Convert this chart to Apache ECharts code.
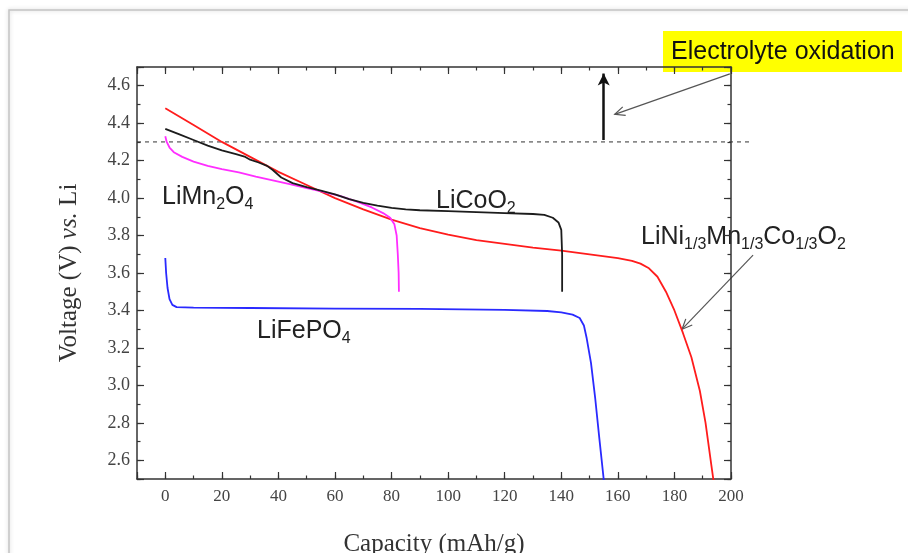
<!DOCTYPE html>
<html>
<head>
<meta charset="utf-8">
<script src="https://cdn.jsdelivr.net/npm/echarts@6/dist/echarts.min.js"></script>
<style>
  html, body { margin: 0; padding: 0; background: #fff; }
  #main { width: 908px; height: 553px; }
</style>
</head>
<body>
<div id="main"></div>
<script>
// discharge curves, capacity (mAh/g) vs voltage (V)
const capNmc = [0, 10, 20, 30, 40, 50, 60, 70, 80, 90, 100, 110, 120, 130, 140, 150, 160, 165, 168, 171, 174, 177, 180, 183, 186, 189, 191, 193, 194.2];
const voltNmc = [4.48, 4.39, 4.30, 4.22, 4.14, 4.07, 4.00, 3.94, 3.885, 3.84, 3.805, 3.775, 3.755, 3.735, 3.72, 3.70, 3.68, 3.665, 3.65, 3.625, 3.58, 3.50, 3.40, 3.28, 3.15, 2.97, 2.80, 2.58, 2.45];

const capMn = [0, 0.5, 1.5, 3, 6, 10, 15, 20, 26, 32, 38, 44, 50, 56, 62, 68, 73, 77, 79.5, 81, 81.8, 82.2, 82.5, 82.6];
const voltMn = [4.33, 4.30, 4.27, 4.245, 4.22, 4.195, 4.172, 4.155, 4.137, 4.115, 4.095, 4.075, 4.053, 4.033, 4.01, 3.98, 3.95, 3.92, 3.895, 3.86, 3.80, 3.70, 3.60, 3.50];

const capCo = [0, 5, 10, 15, 20, 25, 28, 30, 33, 36, 38, 41, 45, 50, 55, 60, 65, 70, 75, 80, 85, 90, 100, 110, 120, 130, 134, 137, 139, 140, 140.3, 140.3];
const voltCo = [4.37, 4.34, 4.31, 4.28, 4.255, 4.235, 4.222, 4.205, 4.19, 4.172, 4.15, 4.11, 4.08, 4.058, 4.04, 4.02, 3.995, 3.975, 3.96, 3.948, 3.94, 3.935, 3.93, 3.925, 3.92, 3.915, 3.91, 3.895, 3.87, 3.83, 3.70, 3.50];

const capFe = [0, 0.3, 0.8, 1.5, 2.5, 4, 10, 30, 60, 90, 120, 135, 140, 144, 146.5, 148, 149, 150.5, 152, 153.5, 155.2];
const voltFe = [3.68, 3.60, 3.52, 3.46, 3.43, 3.418, 3.415, 3.413, 3.41, 3.408, 3.403, 3.397, 3.39, 3.378, 3.36, 3.32, 3.25, 3.12, 2.93, 2.71, 2.47];

// axis ranges
const xMin = -10, xMax = 200;
const yMin = 2.5, yMax = 4.7;

// annotations
const limitV = 4.3;
const oxArrow = [[155, 4.31], [155, 4.665]];

const serif = 'Liberation Serif';
const sans = 'Liberation Sans';
const frameCol = '#333';

const chart = echarts.init(document.getElementById('main'));

function pairs(xs, ys) { return xs.map((x, i) => [x, ys[i]]); }

function xAx(pos, step, len, line, labels) {
  const a = {
    type: 'value', position: pos, min: xMin, max: xMax,
    axisLine: { show: line, onZero: false, lineStyle: { color: frameCol, width: 1.5 } },
    axisTick: { inside: true, length: len, lineStyle: { color: frameCol, width: 1.2 } },
    axisLabel: { show: false },
    splitLine: { show: false }
  };
  if (step) a.interval = step; else a.splitNumber = 10;
  if (labels) {
    a.axisLabel = {
      show: true, margin: 9, fontFamily: serif, fontSize: 17, color: '#444',
      formatter: v => (v < 0 ? '' : v)
    };
    a.name = 'Capacity (mAh/g)';
    a.nameLocation = 'middle';
    a.nameGap = 53;
    a.nameTextStyle = { fontFamily: serif, fontSize: 25, color: '#333' };
  }
  return a;
}

function yAx(pos, step, len, line, labels) {
  const a = {
    type: 'value', position: pos, min: yMin, max: yMax,
    axisLine: { show: line, onZero: false, lineStyle: { color: frameCol, width: 1.5 } },
    axisTick: { inside: true, length: len, lineStyle: { color: frameCol, width: 1.2 } },
    axisLabel: { show: false },
    splitLine: { show: false }
  };
  if (step) a.interval = step; else a.splitNumber = 11;
  if (labels) {
    a.axisLabel = {
      show: true, margin: 7, fontFamily: serif, fontSize: 18, color: '#444',
      formatter: v => (v < 2.55 || v > 4.65 ? '' : v.toFixed(1))
    };
    a.name = 'Voltage (V) {i|vs.} Li';
    a.nameLocation = 'middle';
    a.nameGap = 55;
    a.nameTextStyle = {
      fontFamily: serif, fontSize: 25, color: '#333',
      rich: { i: { fontFamily: serif, fontSize: 25, fontStyle: 'italic', color: '#333' } }
    };
  }
  return a;
}

function line(name, data, color) {
  return {
    name: name, type: 'line', data: data, showSymbol: false, clip: true,
    lineStyle: { color: color, width: 1.8 }, itemStyle: { color: color },
    xAxisIndex: 0, yAxisIndex: 0, silent: true
  };
}

const blackSeries = line('LiCoO2', pairs(capCo, voltCo), '#1c1c1c');
blackSeries.markLine = {
  silent: true, symbol: ['none', 'arrow'], symbolSize: [9, 12],
  label: { show: false },
  lineStyle: { color: '#111', width: 2.5, type: 'solid' },
  data: [[{ coord: oxArrow[0] }, { coord: oxArrow[1] }]]
};

chart.setOption({
  animation: false,
  backgroundColor: '#fff',
  grid: { left: 137, right: 177, top: 67, bottom: 74, containLabel: false, outerBoundsMode: 'none' },
  xAxis: [
    xAx('bottom', null, 7, true, true),
    xAx('bottom', 10, 3.5, false, false),
    xAx('top', null, 7, true, false),
    xAx('top', 10, 3.5, false, false)
  ],
  yAxis: [
    yAx('left', null, 7, true, true),
    yAx('left', 0.1, 3.5, false, false),
    yAx('right', null, 7, true, false),
    yAx('right', 0.1, 3.5, false, false)
  ],
  series: [
    line('LiNi1/3Mn1/3Co1/3O2', pairs(capNmc, voltNmc), '#ff1c1c'),
    line('LiMn2O4', pairs(capMn, voltMn), '#ff2eff'),
    blackSeries,
    line('LiFePO4', pairs(capFe, voltFe), '#2a2aff')
  ]
});

const toPx = p => chart.convertToPixel({ gridIndex: 0 }, p);

function arrow(p0, p1, color, w, head) {
  const a = Math.atan2(p1[1] - p0[1], p1[0] - p0[0]);
  const h1 = [p1[0] - head * Math.cos(a - 0.42), p1[1] - head * Math.sin(a - 0.42)];
  const h2 = [p1[0] - head * Math.cos(a + 0.42), p1[1] - head * Math.sin(a + 0.42)];
  return [
    { type: 'line', silent: true, shape: { x1: p0[0], y1: p0[1], x2: p1[0], y2: p1[1] }, style: { stroke: color, lineWidth: w } },
    { type: 'polyline', silent: true, shape: { points: [h1, p1, h2] }, style: { stroke: color, lineWidth: w, fill: null } }
  ];
}

function label(x, y, text) {
  return {
    type: 'text', x: x, y: y, silent: true,
    style: {
      text: text, verticalAlign: 'middle',
      rich: {
        m: { fontFamily: sans, fontSize: 25, lineHeight: 32, fill: '#222' },
        s: { fontFamily: sans, fontSize: 16, fill: '#222', verticalAlign: 'bottom' }
      }
    }
  };
}

const dA = toPx([xMin, limitV]);
const dB = toPx([207.5, limitV]);

chart.setOption({
  graphic: [
    { type: 'rect', silent: true, shape: { x: 9, y: 10, width: 1000, height: 1000 },
      style: { fill: null, stroke: '#c4c4c4', lineWidth: 1.5, shadowBlur: 4, shadowColor: 'rgba(0,0,0,0.2)' } },
    { type: 'line', silent: true, shape: { x1: dA[0], y1: dA[1], x2: dB[0], y2: dB[1] },
      style: { stroke: '#555', lineWidth: 1.2, lineDash: [4, 4] } },
    { type: 'rect', silent: true, shape: { x: 663, y: 31, width: 239, height: 41 }, style: { fill: '#ffff00' } },
    { type: 'text', silent: true, x: 671, y: 52,
      style: { text: 'Electrolyte oxidation', fontFamily: sans, fontSize: 25, fill: '#111', verticalAlign: 'middle' } },
    ...arrow(toPx([199.6, 4.663]), toPx([158.9, 4.447]), '#555', 1.2, 11),
    ...arrow(toPx([207.8, 3.695]), toPx([182.7, 3.30]), '#555', 1.2, 11),
    label(162, 197, '{m|LiMn}{s|2}{m|O}{s|4}'),
    label(436, 201, '{m|LiCoO}{s|2}'),
    label(641, 237, '{m|LiNi}{s|1/3}{m|Mn}{s|1/3}{m|Co}{s|1/3}{m|O}{s|2}'),
    label(257, 331, '{m|LiFePO}{s|4}')
  ]
});
</script>
</body>
</html>
